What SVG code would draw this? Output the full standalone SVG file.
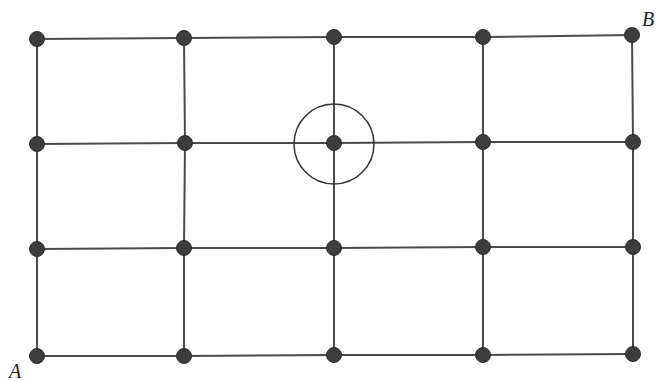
<svg xmlns="http://www.w3.org/2000/svg" width="656" height="381" viewBox="0 0 656 381">
<style>
.e{stroke:#4a4a4a;stroke-width:2;fill:none}
.n{fill:#3d3d3d;stroke:#2a2a2a;stroke-width:1}
.l{font-family:"Liberation Serif",serif;font-style:italic;font-size:20px;fill:#222}
</style>
<rect width="656" height="381" fill="#fff"/>
<g id="connectors">
<polyline class="e" points="37,39 184,38 334,37 483,37 632,35"/>
<polyline class="e" points="37,144 185,143 334,143 483,142 633,142"/>
<polyline class="e" points="37,249 184,248 334,248 483,247 633,247"/>
<polyline class="e" points="37,356 184,356 334,355 483,355 633,354"/>
<polyline class="e" points="37,39 37,144 37,249 37,356"/>
<polyline class="e" points="184,38 185,143 184,248 184,356"/>
<polyline class="e" points="334,37 334,143 334,248 334,355"/>
<polyline class="e" points="483,37 483,142 483,247 483,355"/>
<polyline class="e" points="632,35 633,142 633,247 633,354"/>
<circle cx="334" cy="144" r="40" fill="none" stroke="#333" stroke-width="1.5"/>
</g>
<g id="n00"><circle class="n" cx="37" cy="39" r="7.5"/></g>
<g id="n01"><circle class="n" cx="184" cy="38" r="7.5"/></g>
<g id="n02"><circle class="n" cx="334" cy="37" r="7.5"/></g>
<g id="n03"><circle class="n" cx="483" cy="37" r="7.5"/></g>
<g id="n04"><circle class="n" cx="632" cy="35" r="7.5"/></g>
<g id="n10"><circle class="n" cx="37" cy="144" r="7.5"/></g>
<g id="n11"><circle class="n" cx="185" cy="143" r="7.5"/></g>
<g id="n12"><circle class="n" cx="334" cy="143" r="7.5"/></g>
<g id="n13"><circle class="n" cx="483" cy="142" r="7.5"/></g>
<g id="n14"><circle class="n" cx="633" cy="142" r="7.5"/></g>
<g id="n20"><circle class="n" cx="37" cy="249" r="7.5"/></g>
<g id="n21"><circle class="n" cx="184" cy="248" r="7.5"/></g>
<g id="n22"><circle class="n" cx="334" cy="248" r="7.5"/></g>
<g id="n23"><circle class="n" cx="483" cy="247" r="7.5"/></g>
<g id="n24"><circle class="n" cx="633" cy="247" r="7.5"/></g>
<g id="n30"><circle class="n" cx="37" cy="356" r="7.5"/></g>
<g id="n31"><circle class="n" cx="184" cy="356" r="7.5"/></g>
<g id="n32"><circle class="n" cx="334" cy="355" r="7.5"/></g>
<g id="n33"><circle class="n" cx="483" cy="355" r="7.5"/></g>
<g id="n34"><circle class="n" cx="633" cy="354" r="7.5"/></g>
<g id="labelA"><text class="l" x="9" y="378">A</text></g>
<g id="labelB"><text class="l" x="642" y="26">B</text></g>
</svg>
